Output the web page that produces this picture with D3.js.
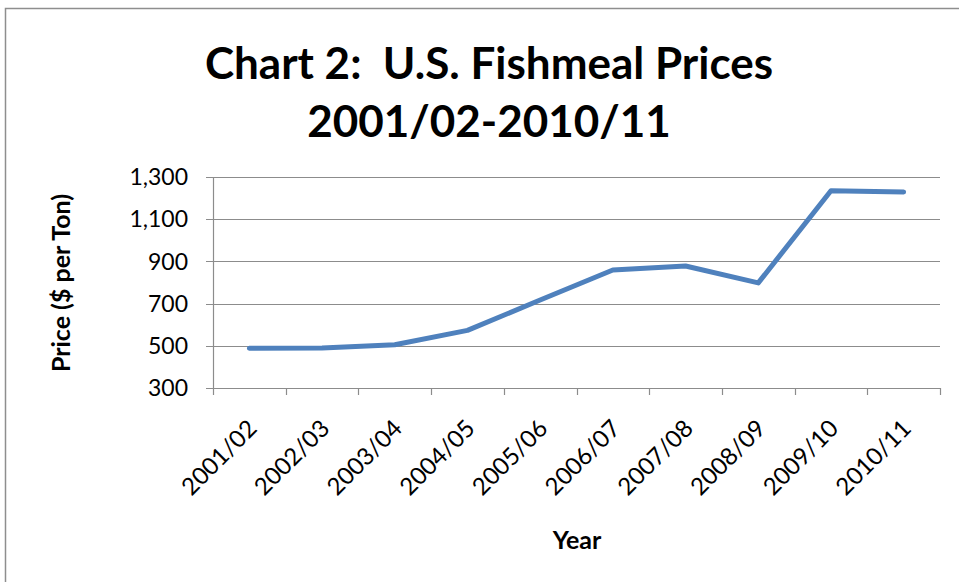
<html>
<script src="https://d3js.org/d3.v7.min.js"></script>
<body style="margin:0;background:#fff">
<svg width="959" height="582"></svg>
<script>
// ------------------------ data ------------------------ //
const years = ["2001/02", "2002/03", "2003/04", "2004/05", "2005/06",
               "2006/07", "2007/08", "2008/09", "2009/10", "2010/11"];
const prices = [488, 490, 505, 573, 717, 859, 878, 798, 1235, 1229];
const yTicks = [300, 500, 700, 900, 1100, 1300];

const data = years.map((y, i) => ({ year: y, price: prices[i] }));

const svg = d3.select("svg");
const font = "Lato, 'Open Sans', sans-serif";

// chart border
svg.append("rect")
  .attr("x", 5.5).attr("y", 8.5)
  .attr("width", 970).attr("height", 600)
  .style("fill", "#fff")
  .style("stroke", "#8e8e8e")
  .style("stroke-width", 1.5);

// ------------------------ title ------------------------ //
const title = svg.append("text")
  .attr("text-anchor", "middle")
  .style("font-family", font)
  .style("font-weight", "bold")
  .style("font-size", "44px")
  .style("white-space", "pre")
  .style("fill", "#000");
title.append("tspan").attr("x", 489).attr("y", 79).text("Chart 2:  U.S. Fishmeal Prices");
title.append("tspan").attr("x", 489).attr("y", 137).text("2001/02-2010/11");

// ------------------------ scales ------------------------ //
const pLeft = 213, pRight = 940, pTop = 177, pBottom = 388;
const x = d3.scaleBand().domain(years).range([pLeft, pRight]);
const y = d3.scaleLinear().domain([300, 1300]).range([pBottom, pTop]);

// gridlines + y axis
const g = svg.append("g");
g.selectAll(".grid")
  .data(yTicks)
  .enter().append("line")
  .attr("x1", pLeft - 7).attr("x2", pRight)
  .attr("y1", d => Math.round(y(d)) + 0.5)
  .attr("y2", d => Math.round(y(d)) + 0.5)
  .style("stroke", "#8c8c8c")
  .style("stroke-width", 1.2);

g.selectAll(".ylab")
  .data(yTicks)
  .enter().append("text")
  .attr("x", pLeft - 25)
  .attr("y", d => y(d))
  .attr("dy", "0.36em")
  .attr("text-anchor", "end")
  .style("font-family", font)
  .style("font-size", "23px")
  .style("fill", "#000")
  .text(d => d3.format(",")(d));

// y axis line
g.append("line")
  .attr("x1", pLeft + 0.5).attr("x2", pLeft + 0.5)
  .attr("y1", pTop).attr("y2", pBottom)
  .style("stroke", "#8c8c8c").style("stroke-width", 1.2);

// x axis ticks at band boundaries
const bounds = years.map(d => x(d)).concat([pRight]);
g.selectAll(".xtick")
  .data(bounds)
  .enter().append("line")
  .attr("x1", d => Math.round(d) + 0.5).attr("x2", d => Math.round(d) + 0.5)
  .attr("y1", pBottom).attr("y2", pBottom + 7)
  .style("stroke", "#8c8c8c").style("stroke-width", 1.2);

// x labels
g.selectAll(".xlab")
  .data(years)
  .enter().append("text")
  .attr("transform", d => "translate(" + (x(d) + x.bandwidth() / 2 + 3) + "," + (pBottom + 36) + ") rotate(-45)")
  .attr("text-anchor", "end")
  .attr("dy", "0.35em")
  .style("font-family", font)
  .style("font-size", "24px")
  .style("fill", "#000")
  .text(d => d);

// axis titles
svg.append("text")
  .attr("x", 577).attr("y", 549)
  .attr("text-anchor", "middle")
  .style("font-family", font)
  .style("font-weight", "bold")
  .style("font-size", "25px")
  .text("Year");

svg.append("text")
  .attr("transform", "translate(70,283) rotate(-90)")
  .attr("text-anchor", "middle")
  .style("font-family", font)
  .style("font-weight", "bold")
  .style("font-size", "25px")
  .text("Price ($ per Ton)");

// ------------------------ line ------------------------ //
const line = d3.line()
  .x(d => x(d.year) + x.bandwidth() / 2)
  .y(d => y(d.price));

svg.append("path")
  .datum(data)
  .attr("d", line)
  .style("fill", "none")
  .style("stroke", "#4F81BD")
  .style("stroke-width", 5)
  .style("stroke-linejoin", "round")
  .style("stroke-linecap", "round");
</script>
</body>
</html>
